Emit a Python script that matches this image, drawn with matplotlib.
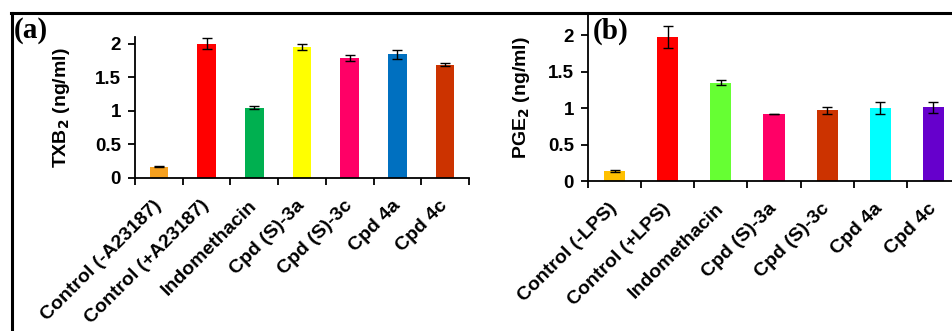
import numpy as np
import matplotlib.pyplot as plt
from matplotlib.lines import Line2D

plt.rcParams['font.family'] = ['Liberation Sans', 'DejaVu Sans']
plt.rcParams['font.weight'] = 'bold'

# TXB2 assay (panel a)
labels_a = ['Control (-A23187)', 'Control (+A23187)', 'Indomethacin',
            'Cpd (S)-3a', 'Cpd (S)-3c', 'Cpd 4a', 'Cpd 4c']
txb2 = [0.17, 2.00, 1.05, 1.95, 1.79, 1.84, 1.69]
txb2_err = [0.005, 0.08, 0.015, 0.05, 0.04, 0.07, 0.02]
colors_a = ['#f5a01f', '#ff0000', '#00b050', '#ffff00', '#ff0066', '#0070c0', '#cc3300']

# PGE2 assay (panel b)
labels_b = ['Control (-LPS)', 'Control (+LPS)', 'Indomethacin',
            'Cpd (S)-3a', 'Cpd (S)-3c', 'Cpd 4a', 'Cpd 4c']
pge2 = [0.14, 1.98, 1.35, 0.92, 0.97, 1.00, 1.01]
pge2_err = [0.01, 0.15, 0.03, 0.005, 0.05, 0.08, 0.08]
colors_b = ['#ffc000', '#ff0000', '#66ff33', '#ff0066', '#cc3300', '#00ffff', '#6600cc']

W, H = 953, 331
fig = plt.figure(figsize=(W / 100, H / 100), dpi=100)


def px_axes(l, r, b, t):
    return fig.add_axes([l / W, 1 - b / H, (r - l) / W, (b - t) / H])


def draw_panel(ax, labels, vals, errs, colors, ymax, ylabel, width, label_x):
    x = np.arange(len(vals))
    ax.bar(x, vals, width=width, color=colors, zorder=2)
    ax.errorbar(x, vals, yerr=errs, fmt='none', ecolor='black',
                elinewidth=1, capsize=3.5, capthick=1, zorder=3)
    ax.set_xlim(-0.5, len(vals) - 0.5)
    ax.set_ylim(0, ymax)
    ax.set_yticks([0, 0.5, 1, 1.5, 2])
    ax.set_yticklabels(['0', '0.5', '1', '1.5', '2'])
    ax.set_xticks(x)
    ax.set_xticklabels(labels, rotation=45, ha='right', va='center',
                       rotation_mode='anchor')
    ax.set_xticks(np.arange(len(vals) + 1) - 0.5, minor=True)
    ax.tick_params(axis='x', which='major', length=0, pad=18, labelsize=14)
    ax.tick_params(axis='x', which='minor', length=5, width=1.3, direction='out')
    ax.tick_params(axis='y', length=5, width=1.3, direction='out', labelsize=13.5, pad=5)
    for s in ['top', 'right']:
        ax.spines[s].set_visible(False)
    for s in ['left', 'bottom']:
        ax.spines[s].set_linewidth(1.3)
    ax.set_ylabel(ylabel, fontsize=14, fontweight='bold')
    ax.yaxis.set_label_coords(label_x, 0.5)


ax1 = px_axes(135, 469, 178, 37)
draw_panel(ax1, labels_a, txb2, txb2_err, colors_a, 2.1,
           r'TXB$_\mathbf{2}$ (ng/ml)', 0.39, -0.189)

ax2 = px_axes(588, 960, 181, 14)
draw_panel(ax2, labels_b, pge2, pge2_err, colors_b, 2.29,
           r'PGE$_\mathbf{2}$ (ng/ml)', 0.4, -0.151)

# outer frame
fig.add_artist(Line2D([11 / W, 1], [1 - 13 / H, 1 - 13 / H], color='black', lw=2.2))
fig.add_artist(Line2D([12 / W, 12 / W], [0, 1 - 13 / H], color='black', lw=2.2))

fig.text(14 / W, 1 - 31 / H, '(a)', family='Liberation Serif', fontsize=21,
         fontweight='bold', va='center', ha='left')
fig.text(593 / W, 1 - 31 / H, '(b)', family='Liberation Serif', fontsize=21,
         fontweight='bold', va='center', ha='left')

fig.savefig('out.png', dpi=100)
